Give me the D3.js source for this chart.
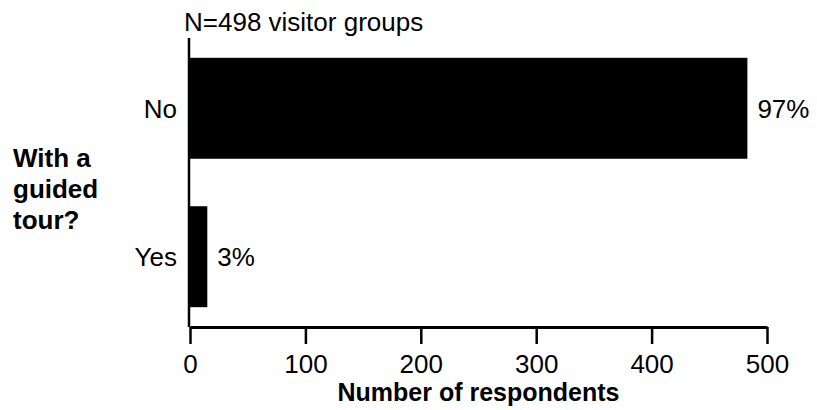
<!DOCTYPE html>
<html>
<head>
<meta charset="utf-8">
<script src="https://cdn.jsdelivr.net/npm/d3@7"></script>
<style>
  body { margin: 0; background: #fff; }
  svg { display: block; }
  text { font-family: "Liberation Sans", Arial, Helvetica, sans-serif; fill: #000; }
</style>
</head>
<body>
<svg id="chart" width="817" height="410"></svg>
<script>
// Data
var categories = ["No", "Yes"];
var counts = [483, 15];
var percents = ["97%", "3%"];
var xTicks = [0, 100, 200, 300, 400, 500];
var title = "N=498 visitor groups";
var questionLines = ["With a", "guided", "tour?"];
var xLabel = "Number of respondents";

var svg = d3.select("#chart");
var fs = 26;

//Scales
var x = d3.scaleLinear()
    .domain([0, 500])
    .range([190, 767]);
var y = d3.scaleBand()
    .domain(categories)
    .range([40, 325])
    .paddingInner(0.32)
    .paddingOuter(0.12);

var axisY = 327;

//Bars
svg.selectAll("rect.bar")
    .data(categories)
    .enter()
    .append("rect")
    .attr("class", "bar")
    .attr("x", x(0))
    .attr("y", function(d) { return y(d); })
    .attr("width", function(d, i) { return x(counts[i]) - x(0); })
    .attr("height", y.bandwidth())
    .attr("fill", "#000");

//Percent labels
svg.selectAll("text.pct")
    .data(categories)
    .enter()
    .append("text")
    .attr("class", "pct")
    .attr("x", function(d, i) { return x(counts[i]) + 10; })
    .attr("y", function(d) { return y(d) + y.bandwidth() / 2; })
    .attr("dy", "0.36em")
    .style("font-size", fs + "px")
    .text(function(d, i) { return percents[i]; });

//Category labels
svg.selectAll("text.cat")
    .data(categories)
    .enter()
    .append("text")
    .attr("class", "cat")
    .attr("x", x(0) - 13)
    .attr("y", function(d) { return y(d) + y.bandwidth() / 2; })
    .attr("dy", "0.36em")
    .attr("text-anchor", "end")
    .style("font-size", fs + "px")
    .text(function(d) { return d; });

//Vertical axis line
svg.append("line")
    .attr("x1", x(0) - 1).attr("x2", x(0) - 1)
    .attr("y1", 38).attr("y2", axisY)
    .attr("stroke", "#000")
    .attr("stroke-width", 2.5);

//Bottom axis
var gx = svg.append("g")
    .attr("transform", "translate(0," + axisY + ")")
    .call(d3.axisBottom(x).tickValues(xTicks).tickSize(17).tickSizeOuter(0).tickPadding(11));
gx.select(".domain").attr("stroke-width", 3);
gx.selectAll(".tick line").attr("stroke-width", 2.5);
gx.selectAll(".tick text")
    .style("font-size", fs + "px")
    .style("font-family", "'Liberation Sans', Arial, sans-serif");

//Axis title
svg.append("text")
    .attr("x", (x(0) + x(500)) / 2)
    .attr("y", 401)
    .attr("text-anchor", "middle")
    .style("font-size", "25px")
    .style("font-weight", "bold")
    .text(xLabel);

//Question label
svg.append("g").selectAll("text")
    .data(questionLines)
    .enter()
    .append("text")
    .attr("x", 13)
    .attr("y", function(d, i) { return 167 + i * 31; })
    .style("font-size", fs + "px")
    .style("font-weight", "bold")
    .text(function(d) { return d; });

//Chart title
svg.append("text")
    .attr("x", 184)
    .attr("y", 31)
    .style("font-size", fs + "px")
    .text(title);
</script>
</body>
</html>
